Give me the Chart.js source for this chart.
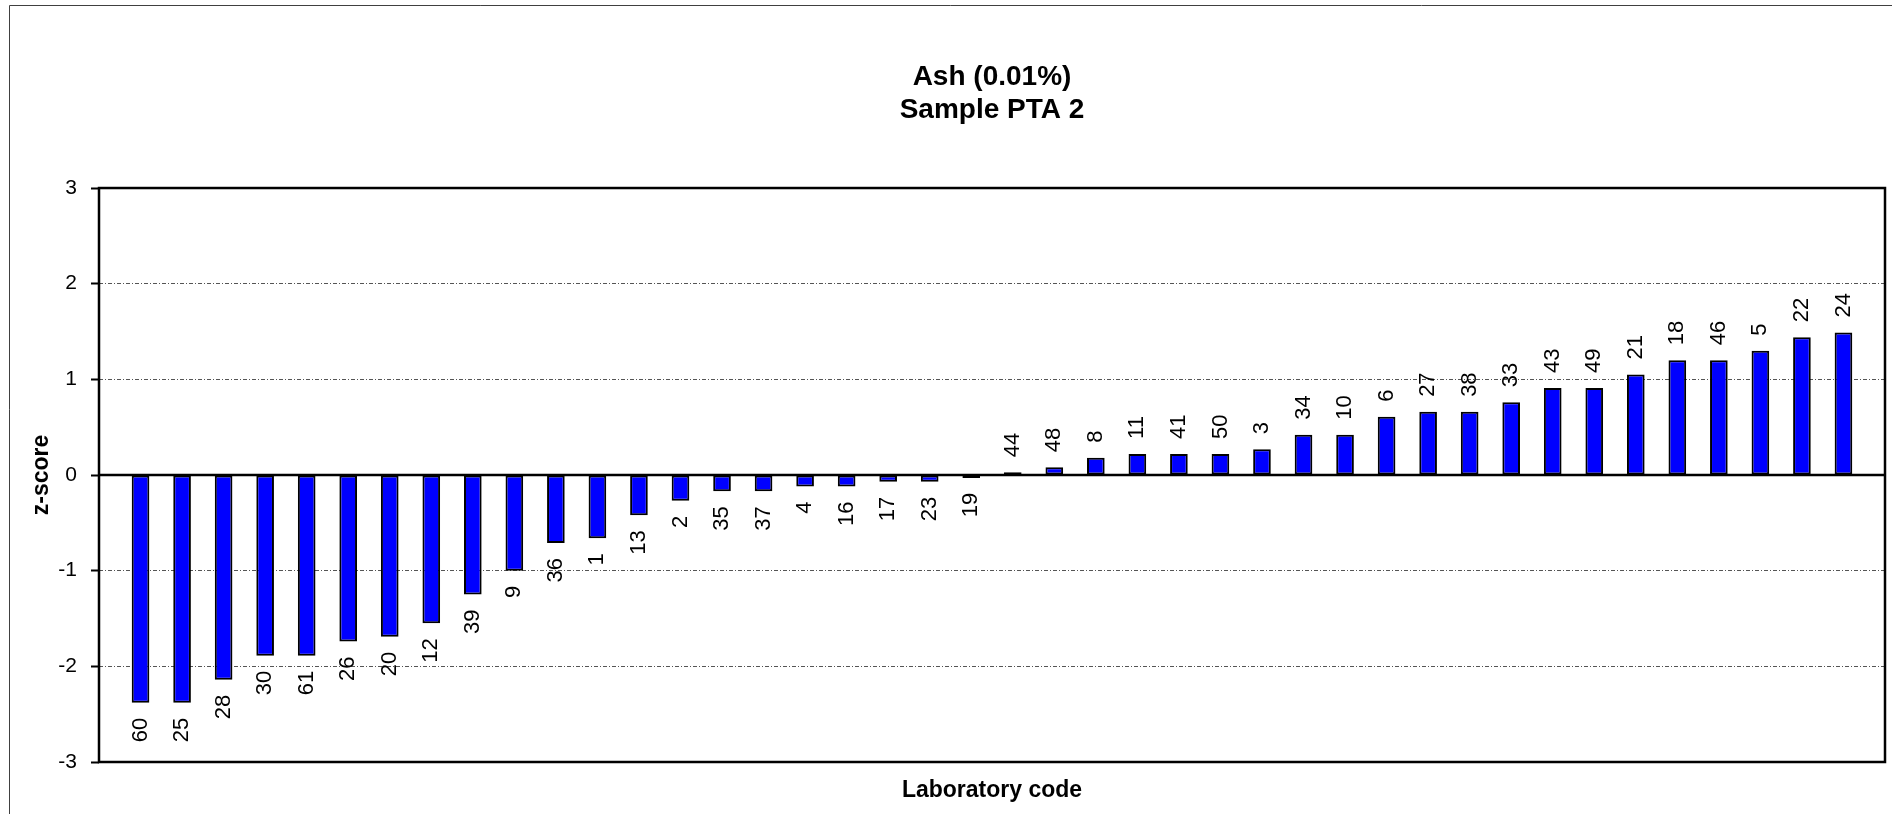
<!DOCTYPE html>
<html>
<head>
<meta charset="utf-8">
<title>Ash (0.01%) – Sample PTA 2</title>
<script src="https://cdn.jsdelivr.net/npm/chart.js@4.4.0/dist/chart.umd.min.js"></script>
<style>
  html, body { margin: 0; padding: 0; background: #ffffff; overflow: hidden; }
  #wrap { position: relative; width: 1892px; height: 814px; }
  canvas { display: block; }
</style>
</head>
<body>
<div id="wrap"><canvas id="zchart" width="1892" height="814"></canvas></div>
<script>
// Laboratory codes, ordered by z-score
const labCodes = ['60','25','28','30','61','26','20','12','39','9','36','1','13','2','35','37','4','16','17','23','19',
                  '44','48','8','11','41','50','3','34','10','6','27','38','33','43','49','21','18','46','5','22','24'];

// z-score per laboratory (same order as labCodes)
const zScores = [-2.38, -2.38, -2.14, -1.89, -1.89, -1.74, -1.69, -1.55, -1.25, -1.00, -0.71, -0.66, -0.42, -0.27,
                 -0.17, -0.17, -0.12, -0.12, -0.07, -0.07, -0.03,
                  0.03,  0.08,  0.18,  0.22,  0.22,  0.22,  0.27,  0.42,  0.42,  0.61,  0.66,  0.66,  0.76,  0.91,
                  0.91,  1.05,  1.20,  1.20,  1.30,  1.44,  1.49];

// y-axis range and step
const yMin = -3;
const yMax = 3;
const yStep = 1;

const chartTitle = ['Ash (0.01%)', 'Sample PTA 2'];
const yAxisTitle = 'z-score';
const xAxisTitle = 'Laboratory code';

const FONT = 'Arial, "Liberation Sans", sans-serif';
Chart.defaults.font.family = FONT;
Chart.defaults.color = '#000000';

// One empty slot on each side of the plot, so the first and last bars sit a full slot in
const slotLabels = [''].concat(labCodes, ['']);
const slotValues = [null].concat(zScores, [null]);

// Outer frame, plot border, zero axis and rotated laboratory-code labels
const decorations = {
  id: 'decorations',
  beforeDraw(chart) {
    const ctx = chart.ctx;
    ctx.save();
    ctx.strokeStyle = '#404040';
    ctx.lineWidth = 1;
    ctx.beginPath();
    ctx.moveTo(9.5, chart.height);
    ctx.lineTo(9.5, 5.5);
    ctx.lineTo(chart.width, 5.5);
    ctx.stroke();
    ctx.restore();
  },
  afterDatasetsDraw(chart) {
    const { ctx, chartArea: a, scales: { y } } = chart;
    const y0 = y.getPixelForValue(0);
    ctx.save();
    ctx.strokeStyle = '#000000';
    ctx.lineWidth = 2.5;
    ctx.beginPath();
    ctx.moveTo(a.left, y0);
    ctx.lineTo(a.right, y0);
    ctx.stroke();
    ctx.strokeRect(a.left, a.top, a.right - a.left, a.bottom - a.top);

    const meta = chart.getDatasetMeta(0);
    ctx.font = '22px ' + FONT;
    ctx.fillStyle = '#000000';
    ctx.textBaseline = 'middle';
    meta.data.forEach((bar, i) => {
      const v = slotValues[i];
      if (v === null || v === undefined) return;
      ctx.save();
      ctx.translate(bar.x, v < 0 ? bar.y + 15 : bar.y - 15);
      ctx.rotate(-Math.PI / 2);
      ctx.textAlign = v < 0 ? 'right' : 'left';
      ctx.fillText(slotLabels[i], 0, 0);
      ctx.restore();
    });
    ctx.restore();
  }
};

new Chart(document.getElementById('zchart'), {
  type: 'bar',
  data: {
    labels: slotLabels,
    datasets: [{
      label: 'z-score',
      data: slotValues,
      backgroundColor: '#0000FF',
      borderColor: '#000000',
      borderWidth: 2,
      borderSkipped: false,
      barPercentage: 0.425,
      categoryPercentage: 1.0
    }]
  },
  options: {
    responsive: false,
    animation: false,
    devicePixelRatio: 1,
    layout: { padding: { left: 0, right: 7, top: 0, bottom: 0 } },
    plugins: {
      legend: { display: false },
      tooltip: { enabled: false },
      title: {
        display: true,
        text: chartTitle,
        fullSize: false,
        color: '#000000',
        font: { family: FONT, size: 28, weight: 'bold', lineHeight: 1.17 },
        padding: { top: 61, bottom: 61.5 }
      }
    },
    scales: {
      x: {
        type: 'category',
        offset: false,
        ticks: { display: false },
        grid: { display: false, offset: false },
        border: { display: false },
        title: {
          display: true,
          text: xAxisTitle,
          color: '#000000',
          font: { family: FONT, size: 23, weight: 'bold', lineHeight: 1.2 },
          padding: { top: 0, bottom: 10 }
        },
        afterFit(scale) { scale.height = 52; }
      },
      y: {
        min: yMin,
        max: yMax,
        ticks: {
          stepSize: yStep,
          color: '#000000',
          font: { family: FONT, size: 21 },
          padding: 14
        },
        grid: {
          color: (c) => (c.tick && (c.tick.value === 0 || c.tick.value === yMin || c.tick.value === yMax))
            ? 'rgba(0,0,0,0)' : '#555555',
          lineWidth: 1,
          tickLength: 8,
          tickColor: '#000000',
          tickWidth: 2,
          borderDash: [4, 2, 1, 2]
        },
        border: { display: false, dash: [4, 2, 1, 2] },
        title: {
          display: true,
          text: yAxisTitle,
          color: '#000000',
          font: { family: FONT, size: 23, weight: 'bold', lineHeight: 1.2 },
          padding: { top: 28, bottom: 0 }
        },
        afterFit(scale) { scale.width = 99; }
      }
    }
  },
  plugins: [decorations]
});
</script>
</body>
</html>
